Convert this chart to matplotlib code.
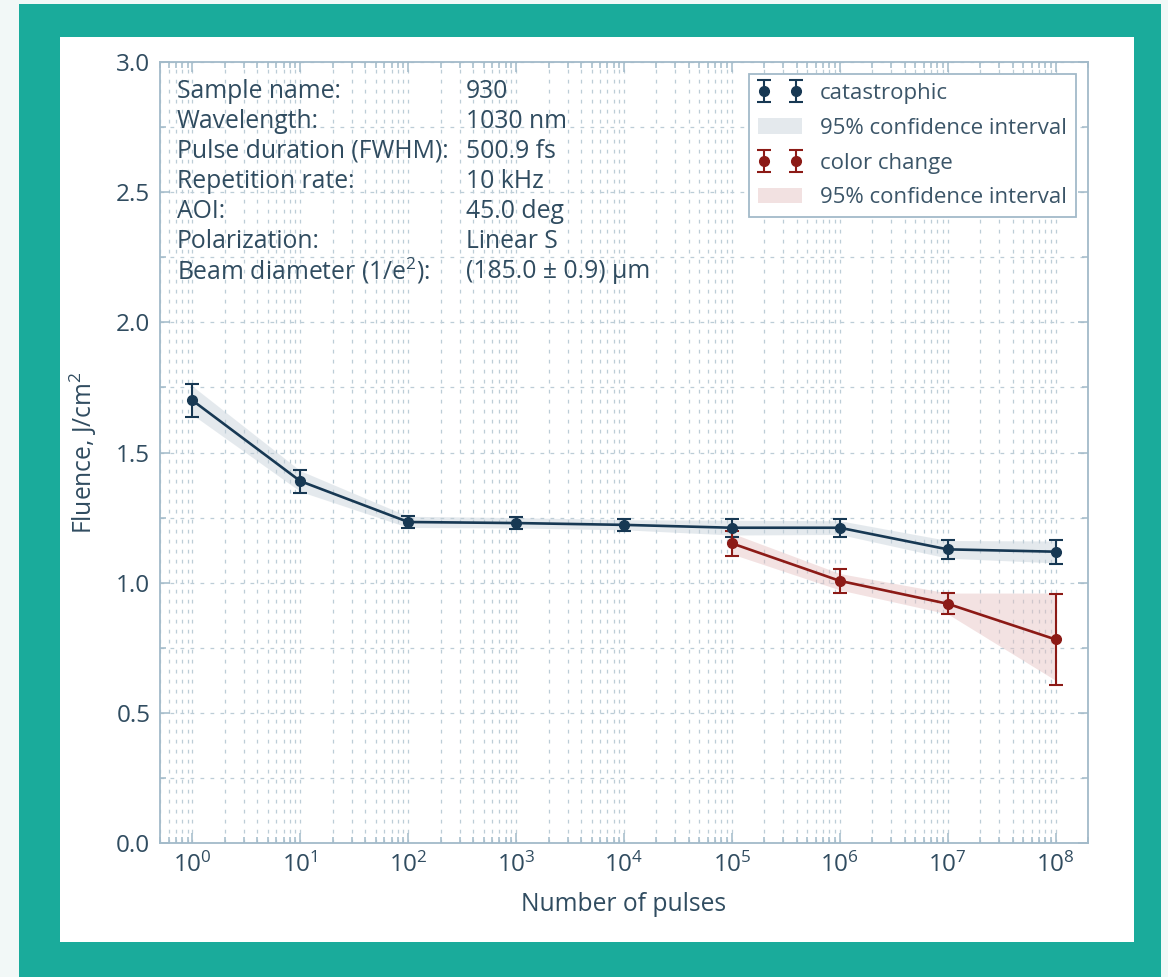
"""Damage threshold fluence vs number of pulses (S-on-1 style chart)"""
import matplotlib
matplotlib.use("Agg")
import matplotlib.pyplot as plt
from matplotlib.patches import Rectangle, Patch
from matplotlib.ticker import MultipleLocator, LogLocator, NullFormatter
import numpy as np

# --- data ---
pulses = [1, 1e1, 1e2, 1e3, 1e4, 1e5, 1e6, 1e7, 1e8]
cat_fluence = [1.70, 1.39, 1.233, 1.229, 1.222, 1.211, 1.211, 1.128, 1.119]
cat_err = [0.062, 0.044, 0.024, 0.022, 0.022, 0.034, 0.034, 0.037, 0.046]
cat_ci_lo = [1.645, 1.350, 1.212, 1.210, 1.203, 1.183, 1.185, 1.094, 1.076]
cat_ci_hi = [1.755, 1.430, 1.255, 1.250, 1.242, 1.240, 1.238, 1.162, 1.160]

cc_pulses = [1e5, 1e6, 1e7, 1e8]
cc_fluence = [1.151, 1.007, 0.919, 0.782]
cc_err = [0.047, 0.046, 0.040, 0.175]
cc_ci_lo = [1.110, 0.972, 0.880, 0.625]
cc_ci_hi = [1.190, 1.035, 0.960, 0.960]

info_labels = ["Sample name:", "Wavelength:", "Pulse duration (FWHM):", "Repetition rate:",
               "AOI:", "Polarization:", "Beam diameter (1/e$^{2}$):"]
info_values = ["930", "1030 nm", "500.9 fs", "10 kHz", "45.0 deg", "Linear S",
               "(185.0 \u00b1 0.9) \u00b5m"]

# --- style ---
NAVY = "#173853"
RED = "#8c1a16"
TEXT = "#304c60"
SPINE = "#a2bac9"
GRID = "#bccdd7"
TEAL = "#1aab9b"

plt.rcParams["font.family"] = ["Open Sans", "DejaVu Sans"]
plt.rcParams["mathtext.fontset"] = "custom"
plt.rcParams["mathtext.rm"] = "Open Sans"
plt.rcParams["mathtext.it"] = "Open Sans:italic"
plt.rcParams["mathtext.bf"] = "Open Sans:bold"
plt.rcParams["text.color"] = TEXT
plt.rcParams["axes.labelcolor"] = TEXT
plt.rcParams["xtick.color"] = TEXT
plt.rcParams["ytick.color"] = TEXT

fig = plt.figure(figsize=(11.68, 9.77), dpi=100)
fig.patch.set_facecolor("#f2f8f7")
W, H = 1168, 977
# teal frame and white card behind the axes
fig.patches.append(Rectangle((19 / W, 0), (1161 - 19) / W, (977 - 4) / H,
                             transform=fig.transFigure, facecolor=TEAL, edgecolor="none", zorder=-2))
fig.patches.append(Rectangle((60 / W, (977 - 942) / H), (1134 - 60) / W, (942 - 37) / H,
                             transform=fig.transFigure, facecolor="white", edgecolor="none", zorder=-1))

ax = fig.add_axes([160 / W, (977 - 843) / H, (1088 - 160) / W, (843 - 62) / H])
ax.set_facecolor("white")
ax.set_xscale("log")
ax.set_xlim(0.5, 2e8)
ax.set_ylim(0, 3.0)

ax.yaxis.set_major_locator(MultipleLocator(0.5))
ax.yaxis.set_minor_locator(MultipleLocator(0.25))
ax.xaxis.set_major_locator(LogLocator(base=10, numticks=20))
ax.xaxis.set_minor_locator(LogLocator(base=10, subs=np.arange(2, 10), numticks=20))
ax.xaxis.set_minor_formatter(NullFormatter())

for s in ax.spines.values():
    s.set_color(SPINE)
    s.set_linewidth(1.3)
ax.tick_params(which="both", direction="in", top=True, right=True, color=SPINE, width=1.1)
ax.tick_params(which="major", length=7, labelsize=17.5, pad=7)
ax.tick_params(which="minor", length=4)

ax.grid(True, which="both", axis="both", color=GRID, linestyle=(0, (3, 5)), linewidth=0.9)
ax.set_axisbelow(True)

# catastrophic damage
ax.fill_between(pulses, cat_ci_lo, cat_ci_hi, color="#c5d0d9", alpha=0.45, lw=0, zorder=1)
ax.plot(pulses, cat_fluence, color=NAVY, lw=1.9, zorder=3)
eb_cat = ax.errorbar(pulses, cat_fluence, yerr=cat_err, fmt="o", color=NAVY, ms=7,
                     elinewidth=1.5, capsize=5, capthick=1.5, zorder=4)

# color change
ax.fill_between(cc_pulses, cc_ci_lo, cc_ci_hi, color="#e6bfbf", alpha=0.45, lw=0, zorder=1)
ax.plot(cc_pulses, cc_fluence, color=RED, lw=1.9, zorder=3)
eb_cc = ax.errorbar(cc_pulses, cc_fluence, yerr=cc_err, fmt="o", color=RED, ms=7,
                    elinewidth=1.5, capsize=5, capthick=1.5, zorder=4)

handles = [eb_cat, Patch(facecolor="#e4e9ed", edgecolor="none"),
           eb_cc, Patch(facecolor="#f2e1e1", edgecolor="none")]
labels = ["catastrophic", "95% confidence interval", "color change", "95% confidence interval"]
leg = ax.legend(handles, labels, loc="upper right", numpoints=2, fontsize=16,
                fancybox=False, framealpha=1, edgecolor=SPINE, borderaxespad=0.55,
                handlelength=2.0, labelspacing=0.62)
leg.get_frame().set_linewidth(1.3)
for t in leg.get_texts():
    t.set_color("#3b5568")

ax.set_xlabel("Number of pulses", fontsize=17.7, labelpad=10)
ax.set_ylabel("Fluence, J/cm$^{2}$", fontsize=17.7, labelpad=12)

# measurement info block
y0 = (843 - 91) / (843 - 62)
step = 30 / (843 - 62)
for i, (lab, val) in enumerate(zip(info_labels, info_values)):
    y = y0 - i * step
    ax.text(0.0183, y, lab, transform=ax.transAxes, fontsize=17.8, va="center", ha="left", zorder=5)
    ax.text(0.3297, y, val, transform=ax.transAxes, fontsize=17.8, va="center", ha="left", zorder=5)

fig.savefig("out.png", dpi=100, facecolor=fig.get_facecolor())
